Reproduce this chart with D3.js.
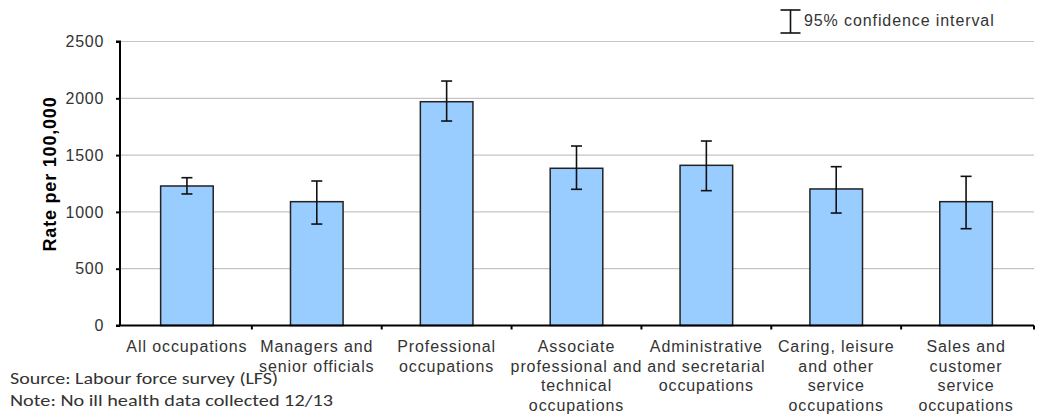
<!DOCTYPE html>
<html><head><meta charset="utf-8">
<script src="https://cdn.jsdelivr.net/npm/d3@7"></script>
<style>html,body{margin:0;padding:0;background:#fff;} svg{display:block;}</style>
</head><body>
<svg id="c" width="1040" height="418"></svg>
<script>
const categories = [
  ["All occupations"],
  ["Managers and", "senior officials"],
  ["Professional", "occupations"],
  ["Associate", "professional and", "technical", "occupations"],
  ["Administrative", "and secretarial", "occupations"],
  ["Caring, leisure", "and other", "service", "occupations"],
  ["Sales and", "customer", "service", "occupations"]
];
const rates = [1228, 1090, 1970, 1384, 1410, 1202, 1090];
const ciLower = [1158, 893, 1800, 1199, 1187, 990, 852];
const ciUpper = [1301, 1272, 2152, 1580, 1624, 1398, 1313];
const yTicks = [0, 500, 1000, 1500, 2000, 2500];
const yTitle = "Rate per 100,000";
const legendLabel = "95% confidence interval";
const notes = ["Source: Labour force survey (LFS)", "Note:  No ill health data collected 12/13"];

const svg = d3.select("#c");
const font = "'Liberation Sans', Arial, sans-serif";
const textCol = "#333";

const ids = categories.map((c, i) => i);
const x = d3.scaleBand().domain(ids).range([122, 1031]).paddingInner(0).paddingOuter(0);
const y = d3.scaleLinear().domain([0, 2500]).range([325.5, 41.5]);
const xLeft = 120, xRight = 1034;

// gridlines
svg.append("g").selectAll("line").data(yTicks.filter(d => d > 0)).join("line")
  .attr("x1", xLeft).attr("x2", xRight)
  .attr("y1", d => y(d)).attr("y2", d => y(d))
  .attr("stroke", "#c4c4c4").attr("stroke-width", 1.2);

// bars
const barW = x.bandwidth() * 0.405;
svg.append("g").selectAll("rect").data(ids).join("rect")
  .attr("x", i => x(i) + x.bandwidth() / 2 - barW / 2)
  .attr("width", barW)
  .attr("y", i => y(rates[i]))
  .attr("height", i => y(0) - y(rates[i]))
  .attr("fill", "#99ccff").attr("stroke", "#222").attr("stroke-width", 1.5);

// error bars
const eb = svg.append("g").attr("stroke", "#111").attr("stroke-width", 1.6);
ids.forEach(i => {
  const cx = x(i) + x.bandwidth() / 2;
  eb.append("line").attr("x1", cx).attr("x2", cx).attr("y1", y(ciUpper[i])).attr("y2", y(ciLower[i]));
  eb.append("line").attr("x1", cx - 5.5).attr("x2", cx + 5.5).attr("y1", y(ciUpper[i])).attr("y2", y(ciUpper[i]));
  eb.append("line").attr("x1", cx - 5.5).attr("x2", cx + 5.5).attr("y1", y(ciLower[i])).attr("y2", y(ciLower[i]));
});

// y axis
const yAxis = svg.append("g").attr("transform", `translate(${xLeft},0)`)
  .call(d3.axisLeft(y).tickValues(yTicks).tickSize(4).tickPadding(12).tickFormat(d3.format("d")));
yAxis.select(".domain").attr("stroke", "#000").attr("stroke-width", 2).attr("d", `M-4,${y(2500)}H0V${y(0)}`);
yAxis.selectAll(".tick line").attr("stroke", "#000").attr("stroke-width", 2);
yAxis.selectAll(".tick text").attr("font-family", font).attr("font-size", 16)
  .attr("fill", textCol).attr("letter-spacing", 0.7);

// x axis
const xAxis = svg.append("g").attr("transform", `translate(0,${y(0)})`);
xAxis.append("line").attr("x1", xLeft - 4).attr("x2", xRight).attr("stroke", "#000").attr("stroke-width", 2.2);
xAxis.selectAll("line.tk").data(ids.slice(1).concat([ids.length])).join("line").attr("class", "tk")
  .attr("x1", i => i < ids.length ? x(i) : xRight).attr("x2", i => i < ids.length ? x(i) : xRight)
  .attr("y1", 0).attr("y2", 4).attr("stroke", "#000").attr("stroke-width", 2);

// x labels
const xl = svg.append("g").attr("font-family", font).attr("font-size", 16).attr("fill", textCol)
  .attr("text-anchor", "middle").attr("letter-spacing", 0.9);
ids.forEach(i => {
  const t = xl.append("text").attr("x", x(i) + x.bandwidth() / 2).attr("y", 352);
  categories[i].forEach((line, k) => {
    t.append("tspan").attr("x", x(i) + x.bandwidth() / 2).attr("y", 352 + k * 19.5).text(line);
  });
});

// y title
svg.append("text").attr("transform", `translate(56,174) rotate(-90)`)
  .attr("text-anchor", "middle").attr("font-family", font).attr("font-size", 18)
  .attr("font-weight", "bold").attr("fill", "#000").attr("letter-spacing", 0.8).text(yTitle);

// legend
const lg = svg.append("g").attr("stroke", "#111").attr("stroke-width", 1.6);
lg.append("line").attr("x1", 790.5).attr("x2", 790.5).attr("y1", 10).attr("y2", 33);
lg.append("line").attr("x1", 780.5).attr("x2", 800.5).attr("y1", 10).attr("y2", 10);
lg.append("line").attr("x1", 780.5).attr("x2", 800.5).attr("y1", 33).attr("y2", 33);
svg.append("text").attr("x", 804).attr("y", 25.5).attr("font-family", font).attr("font-size", 16)
  .attr("fill", textCol).attr("letter-spacing", 0.9).text(legendLabel);

// notes
const nf = "Carlito, 'Open Sans', 'Liberation Sans', sans-serif";
svg.append("text").attr("x", 10).attr("y", 384).attr("font-family", nf).attr("font-size", 17)
  .attr("fill", textCol).attr("textLength", 268).attr("lengthAdjust", "spacingAndGlyphs").text(notes[0]);
svg.append("text").attr("x", 10).attr("y", 406).attr("font-family", nf).attr("font-size", 17)
  .attr("fill", textCol).attr("textLength", 323).attr("lengthAdjust", "spacingAndGlyphs").text(notes[1]);
</script>
</body></html>
